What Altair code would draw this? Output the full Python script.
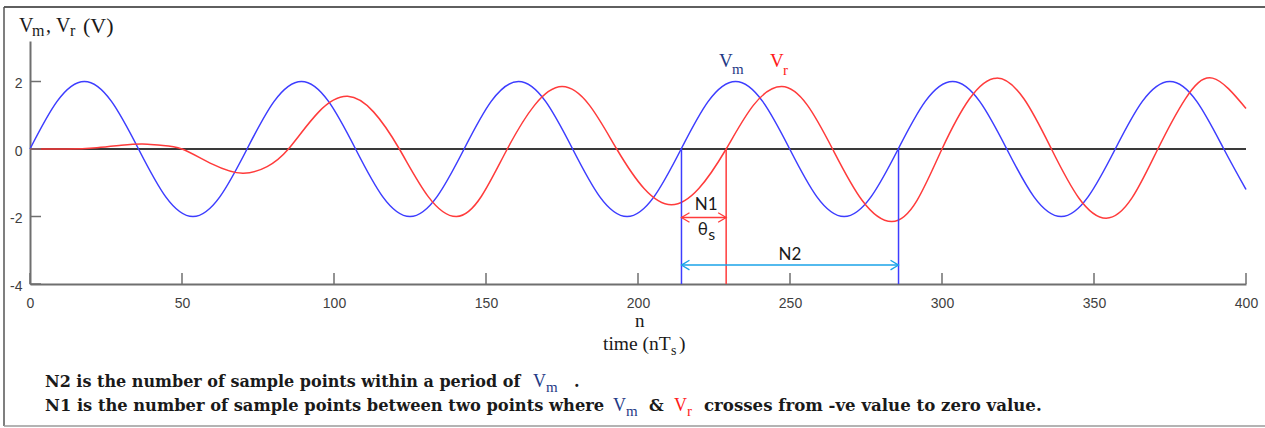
import altair as alt
import pandas as pd

# v_m : sampled reference sine (about 8 samples per period)
vm_n = [0, 8.9, 17.9, 26.8, 35.7, 44.6, 53.6, 62.5, 71.4, 80.3, 89.3, 98.2,
        107.1, 116.0, 125.0, 133.9, 142.8, 151.7, 160.7, 169.6, 178.5, 187.4,
        196.4, 205.3, 214.2, 223.1, 232.1, 241.0, 249.9, 258.8, 267.8, 276.7,
        285.6, 294.5, 303.5, 312.4, 321.3, 330.2, 339.2, 348.1, 357.0, 365.9,
        374.9, 383.8, 392.7, 400]
vm_v = [0, 1.41, 2.0, 1.41, 0, -1.41, -2.0, -1.41, 0, 1.41, 2.0, 1.41,
        0, -1.41, -2.0, -1.41, 0, 1.41, 2.0, 1.41, 0, -1.41,
        -2.0, -1.41, 0, 1.41, 2.0, 1.41, 0, -1.41, -2.0, -1.41,
        0, 1.41, 2.0, 1.41, 0, -1.41, -2.0, -1.41, 0, 1.41,
        2.0, 1.41, 0, -1.2]

# v_r : response signal, lagging v_m with a growing amplitude
vr_n = [0, 12, 22, 30, 37, 43, 50, 60, 70, 78, 85, 95, 104.5, 113, 121.5,
        131, 140.3, 148.5, 157, 166, 175, 184, 193, 202, 211, 220, 229,
        238, 247.3, 255.7, 264, 273.7, 283.5, 291.8, 300, 309, 318, 327,
        336, 345, 354, 362.5, 371, 380, 389, 400]
vr_v = [0, 0.0, 0.04, 0.11, 0.15, 0.11, 0, -0.45, -0.72, -0.52, 0, 1.1, 1.56, 1.1, 0,
        -1.41, -2.0, -1.4, 0, 1.3, 1.85, 1.3, 0, -1.17, -1.65, -1.17, 0,
        1.3, 1.85, 1.3, 0, -1.52, -2.15, -1.52, 0, 1.48, 2.1, 1.48,
        0, -1.45, -2.05, -1.45, 0, 1.48, 2.1, 1.2]

x_ticks = [0, 50, 100, 150, 200, 250, 300, 350, 400]
y_ticks = [-4, -2, 0, 2]

# rising zero crossings: v_m (two successive ones) and v_r
n_vm_rise_1 = 214.3
n_vr_rise = 229.0
n_vm_rise_2 = 285.7

BLUE = "#3d3dff"
RED = "#ff3b3b"
CYAN = "#1aa3e8"
NAVY = "#1f3a86"
SCARLET = "#ff1a1a"
INK = "#1a1a1a"

W, H = 1216, 243
OX, OY = 30, 41  # page position of the plot origin

XS = alt.Scale(domain=[0, 400], nice=False, zero=False)
YS = alt.Scale(domain=[-4, 3.2], nice=False, zero=False)
X_AXIS = alt.Axis(values=x_ticks, ticks=False, grid=False, domainColor="#6f6f6f",
                  domainWidth=2, labelFont="Liberation Sans", labelFontSize=14,
                  labelColor="#3f3f3f", labelPadding=12, title=None, labelFlush=False)
Y_AXIS = alt.Axis(values=y_ticks, ticks=False, grid=False, domainColor="#6f6f6f",
                  domainWidth=2, labelFont="Liberation Sans", labelFontSize=14,
                  labelColor="#3f3f3f", labelPadding=8, title=None, labelOffset=2,
                  labelExpr="replace(datum.label, '−', '-')")

one = pd.DataFrame({"k": [0]})


def X(field):
    return alt.X(field, type="quantitative", scale=XS, axis=X_AXIS)


def Y(field):
    return alt.Y(field, type="quantitative", scale=YS, axis=Y_AXIS)


def page_text(s, x, y, size, color=INK, font="Liberation Serif", weight="normal"):
    return alt.Chart(one).mark_text(
        text=s, font=font, fontSize=size, fontWeight=weight, color=color,
        align="left", baseline="alphabetic"
    ).encode(x=alt.value(x - OX), y=alt.value(y - OY))


def page_rule(x1, y1, x2, y2, color, width):
    return alt.Chart(one).mark_rule(color=color, strokeWidth=width).encode(
        x=alt.value(x1 - OX), x2=alt.value(x2 - OX),
        y=alt.value(y1 - OY), y2=alt.value(y2 - OY))


# zero line
zero = alt.Chart(pd.DataFrame({"a": [0], "b": [400], "v": [0]})).mark_rule(
    color="#3a3a3a", strokeWidth=1.8).encode(x=X("a"), x2="b", y=Y("v"))

# signals
curves = pd.DataFrame({
    "n": vm_n + vr_n,
    "v": vm_v + vr_v,
    "s": ["vm"] * len(vm_n) + ["vr"] * len(vr_n),
})
lines = alt.Chart(curves).mark_line(interpolate="natural", strokeWidth=1.5).encode(
    x=X("n"), y=Y("v"),
    color=alt.Color("s:N", scale=alt.Scale(domain=["vm", "vr"], range=[BLUE, RED]), legend=None),
    detail="s:N",
)

# drop lines at the rising zero crossings
drops = pd.DataFrame({
    "n": [n_vm_rise_1, n_vr_rise, n_vm_rise_2],
    "top": [0, 0, 0],
    "bot": [-4, -4, -4],
    "c": [BLUE, RED, BLUE],
})
drop_rules = alt.Chart(drops).mark_rule(strokeWidth=1.5).encode(
    x=X("n"), y=Y("top"), y2="bot", color=alt.Color("c:N", scale=None))

# N1 / N2 double arrows
arrows = pd.DataFrame({
    "a": [n_vm_rise_1, n_vm_rise_1],
    "b": [n_vr_rise, n_vm_rise_2],
    "lvl": [-2.03, -3.44],
    "c": [RED, CYAN],
})
shafts = alt.Chart(arrows).mark_rule(strokeWidth=1.5).encode(
    x=X("a"), x2="b", y=Y("lvl"), color=alt.Color("c:N", scale=None))
heads_right = alt.Chart(arrows).mark_point(
    shape="M-1,-0.6L0,0L-1,0.6", filled=False, size=256, strokeWidth=1.3, opacity=1
).encode(x=X("b"), y=Y("lvl"), color=alt.Color("c:N", scale=None))
heads_left = alt.Chart(arrows).mark_point(
    shape="M1,-0.6L0,0L1,0.6", filled=False, size=256, strokeWidth=1.3, opacity=1
).encode(x=X("a"), y=Y("lvl"), color=alt.Color("c:N", scale=None))

# inward ticks
xt = alt.Chart(pd.DataFrame({"t": x_ticks})).mark_rule(color="#6f6f6f", strokeWidth=1.5).encode(
    x=X("t"), y=alt.value(H - 11), y2=alt.value(H))
yt = alt.Chart(pd.DataFrame({"t": y_ticks})).mark_rule(color="#6f6f6f", strokeWidth=1.5).encode(
    y=Y("t"), x=alt.value(0), x2=alt.value(11))

# annotation labels tied to the crossings
ann = pd.DataFrame({
    "n": [(n_vm_rise_1 + n_vr_rise) / 2 + 0.8, (n_vm_rise_1 + n_vm_rise_2) / 2],
    "v": [-1.82, -3.3],
    "t": ["N1", "N2"],
})
ann_text = alt.Chart(ann).mark_text(font="Lato", fontSize=17, color=INK, baseline="alphabetic").encode(
    x=X("n"), y=Y("v"), text="t:N")
theta = alt.Chart(pd.DataFrame({"n": [n_vm_rise_1 + 7.0], "v": [-2.55]})).mark_text(
    text="θ", font="Lato", fontSize=17, color=INK, baseline="alphabetic").encode(x=X("n"), y=Y("v"))
theta_s = alt.Chart(pd.DataFrame({"n": [n_vm_rise_1 + 8.8], "v": [-2.7]})).mark_text(
    text="s", font="Lato", fontSize=16, color=INK, baseline="alphabetic", align="left").encode(x=X("n"), y=Y("v"))

# curve names near the peaks
names = [
    page_text("V", 719, 67, 19, NAVY),
    page_text("m", 732, 74, 15, NAVY),
    page_text("V", 770, 67, 19, SCARLET),
    page_text("r", 783, 75, 15, SCARLET),
]

# y-axis title
ytitle = [
    page_text("V", 19, 32, 20),
    page_text("m", 32, 36, 16),
    page_text(",", 46, 32, 20),
    page_text("V", 56, 32, 20),
    page_text("r", 70, 36, 16),
    page_text("(V)", 83, 33, 22),
]

# x-axis title
xtitle = [
    page_text("n", 635, 327, 19),
    page_text("time (nT", 603, 350, 19.5),
    page_text("s", 671, 355, 14),
    page_text(")", 679, 350, 19.5),
]

# footnotes
BF = "DejaVu Serif"
notes = [
    page_text("N2 is the number of sample points within a period of", 45, 387, 16.0, INK, BF, "bold"),
    page_text("V", 533, 387, 18, NAVY),
    page_text("m", 546, 392, 15, NAVY),
    page_text(".", 574, 387, 16.0, INK, BF, "bold"),
    page_text("N1 is the number of sample points between two points where", 45, 411, 16.3, INK, BF, "bold"),
    page_text("V", 613, 411, 18, NAVY),
    page_text("m", 626, 416, 15, NAVY),
    page_text("&", 649, 411, 16.3, INK, BF, "bold"),
    page_text("V", 674, 411, 18, SCARLET),
    page_text("r", 687, 416, 15, SCARLET),
    page_text("crosses from -ve value to zero value.", 704, 411, 16.6, INK, BF, "bold"),
]

# outer frame
frame = [
    page_rule(4, 7, 1265, 7, "#2a2a2a", 1.5),
    page_rule(4, 7, 4, 426, "#555555", 1.5),
    page_rule(4, 426, 1265, 426, "#9a9a9a", 1.5),
]

chart = alt.layer(
    zero, lines, drop_rules, shafts, heads_right, heads_left, xt, yt,
    ann_text, theta, theta_s, *names, *ytitle, *xtitle, *notes, *frame
).properties(
    width=W, height=H,
    padding={"left": OX, "top": OY, "right": 1265 - OX - W, "bottom": 428 - OY - H},
    autosize="none",
).configure_view(stroke=None)

chart.save("out.html", embed_options={"renderer": "svg", "actions": False})
